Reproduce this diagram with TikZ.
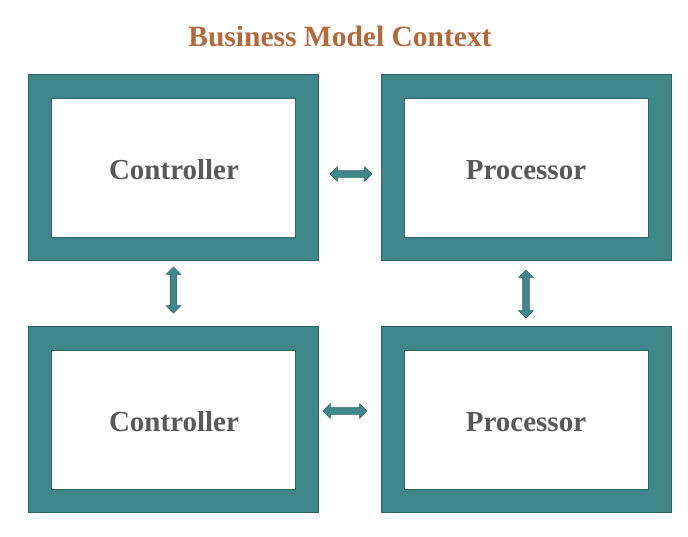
\documentclass[tikz,border=0pt]{standalone}
\usepackage{fontspec}
\setmainfont{Liberation Serif}
\usetikzlibrary{shapes.arrows}
\definecolor{teal1}{HTML}{3F8789}
\definecolor{tealdark}{HTML}{2C6466}
\definecolor{titlec}{HTML}{B5683A}
\definecolor{textg}{HTML}{595959}
\begin{document}
\begin{tikzpicture}[x=1pt,y=-1pt,
  outerbox/.style={draw=tealdark,fill=teal1,line width=1pt,minimum width=290pt,minimum height=186pt,inner sep=0pt},
  innerbox/.style={draw=tealdark,fill=white,line width=0.8pt,minimum width=244pt,minimum height=139pt,inner sep=0pt},
  label/.style={font=\bfseries\fontsize{29}{32}\selectfont,text=textg,inner sep=0pt},
  blockarrow/.style={double arrow,draw=tealdark,fill=teal1,line width=0.6pt,inner sep=3pt,minimum width=14pt,double arrow head extend=4pt,double arrow tip angle=90}
]
\useasboundingbox (0,0) rectangle (688,536);
\node[font=\bfseries\fontsize{29.5}{32}\selectfont,text=titlec] (title) at (340,36) {Business Model Context};
\node[outerbox] (tl) at (173.5,167) {};
\node[innerbox] (tli) at (173.5,167.5) {};
\node[label] (tlt) at (174,170) {Controller};
\node[outerbox] (tr) at (526,167) {};
\node[innerbox] (tri) at (526,167.5) {};
\node[label] (trt) at (526,170) {Processor};
\node[outerbox] (bl) at (173.5,419) {};
\node[innerbox] (bli) at (173.5,419.5) {};
\node[label] (blt) at (174,422) {Controller};
\node[outerbox] (br) at (526,419) {};
\node[innerbox] (bri) at (526,419.5) {};
\node[label] (brt) at (526,422) {Processor};
\node[blockarrow,minimum height=42pt] (a1) at (351,174) {};
\node[blockarrow,minimum height=46pt,rotate=90] (a2) at (173.5,290) {};
\node[blockarrow,minimum height=48pt,rotate=90] (a3) at (526,294) {};
\node[blockarrow,minimum height=44pt] (a4) at (345,411) {};
\end{tikzpicture}
\end{document}
